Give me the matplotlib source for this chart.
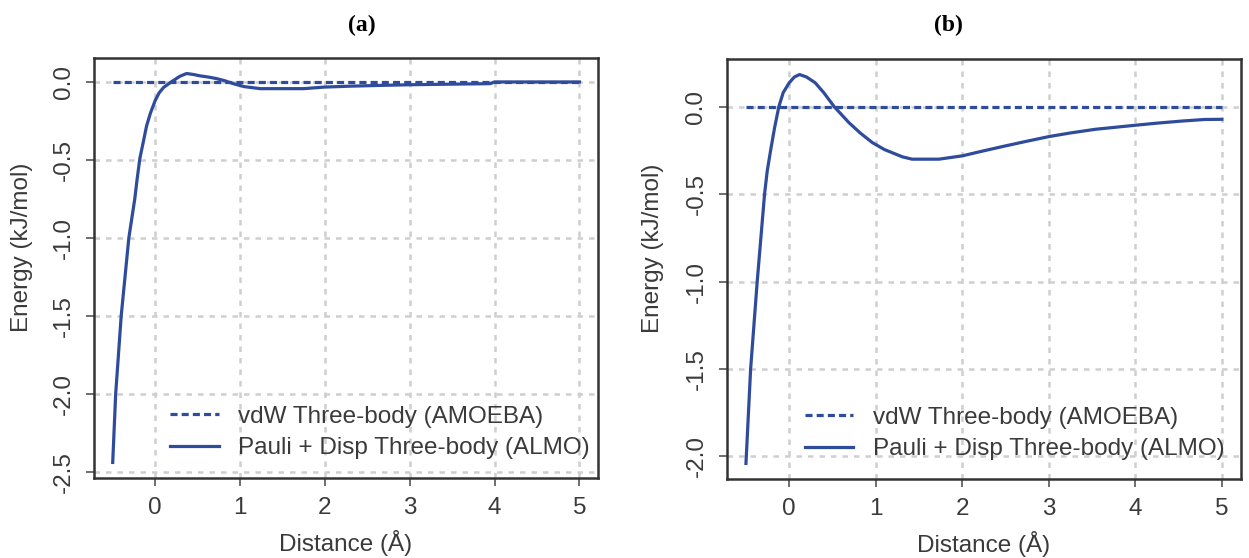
import numpy as np
import matplotlib
matplotlib.use("Agg")
import matplotlib.pyplot as plt

# distances (A) and energies (kJ/mol)
dist_a = [-0.5, -0.465, -0.4, -0.31, -0.24, -0.213, -0.18, -0.142, -0.1, -0.055, 0.0, 0.047,
          0.1, 0.19, 0.29, 0.37, 0.45, 0.53, 0.62, 0.72, 0.82, 0.92, 1.05, 1.24, 1.5, 1.75,
          1.99, 2.3, 2.66, 3.0, 3.5, 3.95, 4.0, 4.5, 5.0]
almo_a = [-2.44, -2.0, -1.5, -1.0, -0.75, -0.626, -0.49, -0.391, -0.28, -0.199, -0.12, -0.07,
          -0.035, 0.0, 0.036, 0.054, 0.048, 0.039, 0.032, 0.022, 0.008, -0.011, -0.03, -0.043,
          -0.043, -0.043, -0.033, -0.027, -0.022, -0.018, -0.014, -0.011, 0.0, 0.0, 0.0]

dist_b = [-0.5, -0.446, -0.37, -0.285, -0.254, -0.215, -0.169, -0.12, -0.07, 0.0, 0.06, 0.12,
          0.2, 0.3, 0.4, 0.52, 0.69, 0.82, 0.96, 1.1, 1.31, 1.42, 1.6, 1.73, 2.0, 2.25, 2.5,
          2.75, 3.0, 3.25, 3.54, 4.0, 4.25, 4.54, 4.8, 5.0]
almo_b = [-2.04, -1.5, -1.0, -0.5, -0.367, -0.25, -0.12, 0.0, 0.08, 0.137, 0.17, 0.184,
          0.17, 0.137, 0.08, 0.0, -0.091, -0.15, -0.205, -0.245, -0.287, -0.30, -0.30, -0.30,
          -0.281, -0.252, -0.224, -0.197, -0.171, -0.15, -0.129, -0.106, -0.094, -0.082,
          -0.073, -0.072]

# AMOEBA three-body vdW is zero over the whole range
dist_vdw = [-0.5, 5.0]
amoeba = [0.0, 0.0]

xticks = [0, 1, 2, 3, 4, 5]
yticks_a = [0.0, -0.5, -1.0, -1.5, -2.0, -2.5]
yticks_b = [0.0, -0.5, -1.0, -1.5, -2.0]
panel_titles = ["(a)", "(b)"]
labels = ["vdW Three-body (AMOEBA)", "Pauli + Disp Three-body (ALMO)"]

blue = "#2f4b9b"
txt = "#3a3a3a"
fs = 17.5
plt.rcParams['font.family'] = ['Liberation Sans', 'DejaVu Sans']

fig = plt.figure(figsize=(12.49, 5.58), dpi=100)
ax_a = fig.add_axes([0.0753, 0.1434, 0.4035, 0.7527])
ax_b = fig.add_axes([0.582, 0.1416, 0.4115, 0.7527])

panels = [(ax_a, dist_a, almo_a, yticks_a), (ax_b, dist_b, almo_b, yticks_b)]
for ax, x, y, yt in panels:
    ax.plot(dist_vdw, amoeba, color=blue, lw=2.3, dashes=(2.2, 1.3), label=labels[0], zorder=3)
    ax.plot(x, y, color=blue, lw=2.3, label=labels[1], zorder=3)
    ax.margins(0.04)
    ax.set_xticks(xticks)
    ax.set_yticks(yt)
    ax.set_xticklabels([str(t) for t in xticks])
    ax.set_yticklabels(["%.1f" % t for t in yt], rotation=90, va="center")
    ax.grid(True, color="#cfcfcf", lw=1.8, dashes=(2.2, 2.4), zorder=1)
    ax.tick_params(direction="out", length=6, width=1.2, color="#555555",
                   labelsize=fs, labelcolor=txt, pad=8)
    for s in ax.spines.values():
        s.set_linewidth(1.8)
        s.set_color("#333333")
    ax.set_xlabel("Distance (Å)", fontsize=fs, color=txt)
    ax.set_ylabel("Energy (kJ/mol)", fontsize=fs, color=txt)
    ax.xaxis.set_label_coords(0.5, -0.125)
    ax.yaxis.set_label_coords(-0.122, 0.55)
    leg = ax.legend(loc="lower left", bbox_to_anchor=(0.151, 0.045), frameon=False,
                    fontsize=fs, handlelength=2.0, handletextpad=0.8, labelspacing=0.38,
                    borderpad=0, borderaxespad=0)
    for t in leg.get_texts():
        t.set_color(txt)

fig.text(0.29, 0.955, panel_titles[0], ha="center", va="center", fontsize=17,
         fontweight="bold", family="Liberation Serif")
fig.text(0.759, 0.955, panel_titles[1], ha="center", va="center", fontsize=17,
         fontweight="bold", family="Liberation Serif")

fig.savefig("out.png", dpi=100)
